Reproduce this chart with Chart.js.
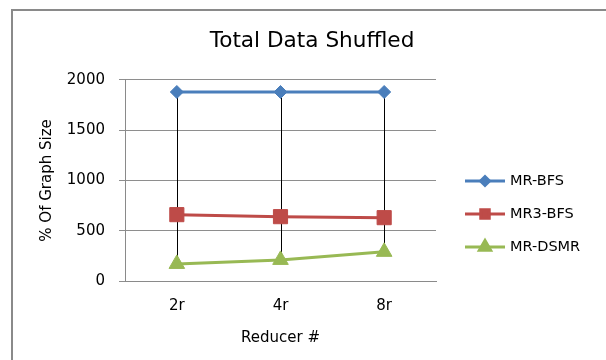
<!DOCTYPE html>
<html>
<head>
<meta charset="utf-8">
<script src="https://cdn.jsdelivr.net/npm/chart.js@4/dist/chart.umd.min.js"></script>
<style>
  body { margin: 0; background: #fff; }
  #wrap { position: relative; width: 606px; height: 360px; overflow: hidden; }
  #frame { position: absolute; left: 11px; top: 9px; width: 640px; height: 400px;
           border-left: 2px solid #8a8a8a; border-top: 2px solid #8a8a8a; }
  canvas { position: absolute; left: 0; top: 0; }
</style>
</head>
<body>
<div id="wrap">
  <div id="frame"></div>
  <canvas id="chart" width="606" height="360"></canvas>
</div>
<script>
// ===== Data =====
const categories = ['2r', '4r', '8r'];
const mrBfs = [1880, 1880, 1880];
const mr3Bfs = [660, 640, 630];
const mrDsmr = [170, 210, 290];
const yMin = 0, yMax = 2000, yStep = 500;

const seriesNames = ['MR-BFS', 'MR3-BFS', 'MR-DSMR'];
const seriesColors = ['#4a7ebb', '#be4b48', '#98b954'];
const seriesShapes = ['rectRot', 'rect', 'triangle'];
const markerSizes = [6.5, 10, 9];
const legendSizes = [4.5, 6, 6.5];

Chart.defaults.font.family = "'DejaVu Sans', sans-serif";
Chart.defaults.color = '#000';

// ===== High-low lines (drawn under markers) =====
const highLowLines = {
  id: 'highLowLines',
  beforeDatasetsDraw(chart) {
    const ctx = chart.ctx;
    const x = chart.scales.x, y = chart.scales.y;
    const sets = chart.data.datasets;
    ctx.save();
    ctx.strokeStyle = '#000';
    ctx.lineWidth = 1;
    categories.forEach((c, i) => {
      const vals = sets.map(d => d.data[i]);
      const px = Math.round(x.getPixelForValue(i)) + 0.5;
      ctx.beginPath();
      ctx.moveTo(px, y.getPixelForValue(Math.max(...vals)));
      ctx.lineTo(px, y.getPixelForValue(Math.min(...vals)));
      ctx.stroke();
    });
    ctx.restore();
  }
};

// ===== Excel style legend: line + marker =====
const lineLegend = {
  id: 'lineLegend',
  afterDraw(chart) {
    const ctx = chart.ctx;
    const rows = [181, 214, 247];
    ctx.save();
    chart.data.datasets.forEach((d, i) => {
      const yy = rows[i];
      ctx.strokeStyle = d.borderColor;
      ctx.lineWidth = 3;
      ctx.beginPath();
      ctx.moveTo(465, yy);
      ctx.lineTo(505, yy);
      ctx.stroke();
      ctx.fillStyle = d.borderColor;
      ctx.strokeStyle = d.borderColor;
      Chart.helpers.drawPoint(ctx, { pointStyle: seriesShapes[i], radius: legendSizes[i], rotation: 0, borderWidth: 1 }, 485, yy);
      ctx.fillStyle = '#000';
      ctx.font = "14.5px 'DejaVu Sans'";
      ctx.textBaseline = 'middle';
      ctx.fillText(d.label, 510, yy);
    });
    ctx.restore();
  }
};

const datasets = [mrBfs, mr3Bfs, mrDsmr].map((vals, i) => ({
  label: seriesNames[i],
  data: vals,
  borderColor: seriesColors[i],
  backgroundColor: seriesColors[i],
  borderWidth: 3,
  pointStyle: seriesShapes[i],
  pointRadius: markerSizes[i],
  pointHoverRadius: markerSizes[i],
  pointBorderWidth: 1,
  tension: 0
}));

new Chart(document.getElementById('chart'), {
  type: 'line',
  data: { labels: categories, datasets: datasets },
  options: {
    responsive: false,
    animation: false,
    layout: { padding: { left: 18, right: 0, top: 10, bottom: 0 } },
    plugins: {
      legend: { display: false },
      tooltip: { enabled: false },
      title: {
        display: true,
        text: 'Total Data Shuffled',
        font: { size: 21.6, weight: 'normal' },
        color: '#000',
        padding: { top: 18, bottom: 26 }
      }
    },
    scales: {
      x: {
        offset: true,
        grid: { display: false, drawTicks: false },
        border: { display: true, color: '#8a8a8a', width: 1 },
        ticks: { padding: 16, font: { size: 15 } },
        title: { display: true, text: 'Reducer #', font: { size: 15 }, padding: { top: 14, bottom: 13 } },
        afterFit(s) { s.height = 79; }
      },
      y: {
        min: yMin,
        max: yMax,
        ticks: { stepSize: yStep, padding: 14, font: { size: 15 }, callback: v => String(v) },
        grid: { color: '#8e8e8e', lineWidth: 1, tickLength: 6 },
        border: { display: true, color: '#8a8a8a', width: 1 },
        title: { display: true, text: '% Of Graph Size', font: { size: 15 }, padding: { top: 20, bottom: 0 } },
        afterFit(s) { s.width = 107; }
      },
      legendSpace: {
        type: 'linear',
        position: 'right',
        display: true,
        grid: { display: false },
        border: { display: false },
        ticks: { display: false },
        afterFit(s) { s.width = 170; }
      }
    }
  },
  plugins: [highLowLines, lineLegend]
});
</script>
</body>
</html>
